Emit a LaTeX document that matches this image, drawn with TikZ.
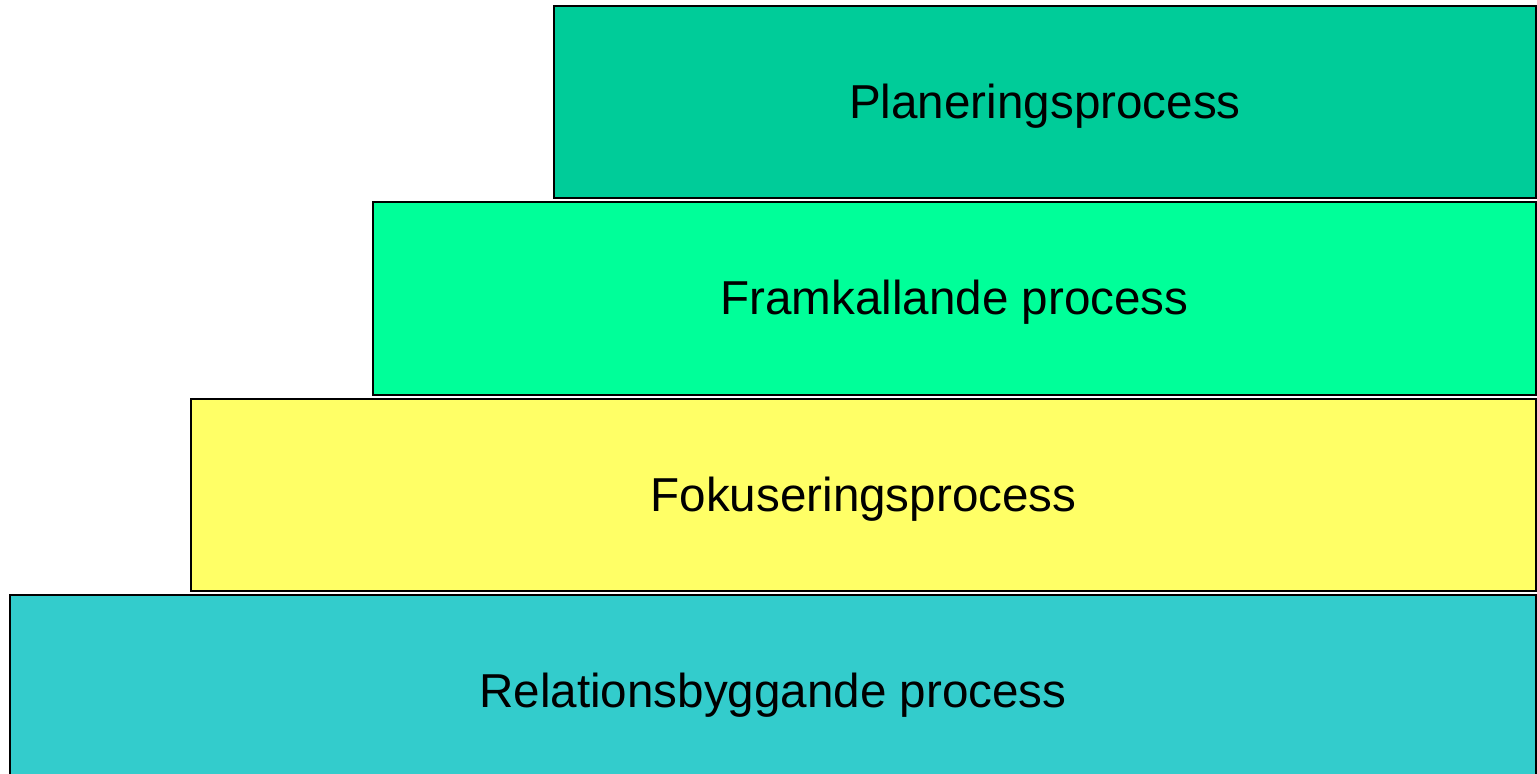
\documentclass[tikz,border=0pt]{standalone}
\usepackage{fontspec}
\setmainfont{Liberation Sans}
\definecolor{planc}{HTML}{00CC99}
\definecolor{framc}{HTML}{00FF99}
\definecolor{fokc}{HTML}{FFFF66}
\definecolor{relc}{HTML}{33CCCC}
\begin{document}
\begin{tikzpicture}[x=0.5pt,y=-0.5pt,
  layer/.style={draw=black, line width=0.9pt, rectangle, inner sep=0pt, outer sep=0pt,
    font=\fontsize{23.8}{28}\selectfont, text=black, text height=20.5pt, text depth=4pt}]
\useasboundingbox (0,0) rectangle (1537,774);
\begin{scope}
\clip (0,0) rectangle (1537,774);
\node[layer, fill=relc, minimum width=763pt, minimum height=96pt] (rel) at (773,691) {Relationsbyggande process};
\end{scope}
\node[layer, fill=fokc, minimum width=672.5pt, minimum height=96pt] (fok) at (863.5,495) {Fokuseringsprocess};
\node[layer, fill=framc, minimum width=581.5pt, minimum height=96.5pt] (fram) at (954.5,298.5) {Framkallande process};
\node[layer, fill=planc, minimum width=491pt, minimum height=96pt] (plan) at (1045,102) {Planeringsprocess};
\end{tikzpicture}
\end{document}
